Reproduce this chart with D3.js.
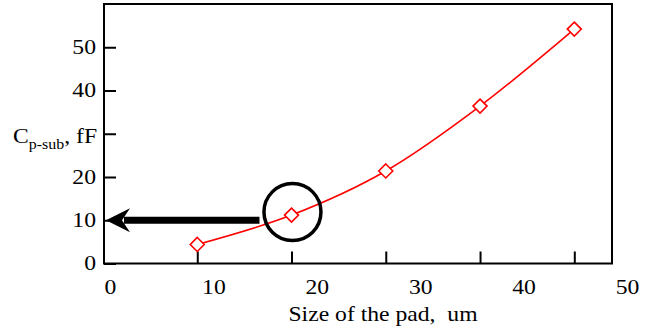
<!DOCTYPE html>
<html>
<head>
<meta charset="utf-8">
<script src="https://cdn.jsdelivr.net/npm/d3@7"></script>
<style>
  body { margin: 0; background: #fff; }
  svg, svg text { font-family: "Liberation Serif", "Times New Roman", serif; }
</style>
</head>
<body>
<svg id="chart" width="656" height="329"></svg>
<script>
const padSize = [10, 20, 30, 40, 50];
const cpSub = [4.4, 11.2, 21.4, 36.4, 54.2];
const xLabels = [0, 10, 20, 30, 40, 50];
const yLabels = [0, 10, 20, 40, 50];
const yTicks = [0, 10, 20, 30, 40, 50];

const FONT = "Liberation Serif";
const FS = 21.5;
const STRETCH = "scale(1.1,1)"; // the source figure is a little wider than tall
const svg = d3.select("#chart");

const x = d3.scaleLinear().domain([0, 54]).range([103, 612]);
const y = d3.scaleLinear().domain([0, 60]).range([263.5, 4]);
// tick labels in the figure are spaced a bit wider than the tick marks
const xLab = d3.scaleLinear().domain([0, 50]).range([110, 627]);

// frame
svg.append("rect")
    .attr("x", x.range()[0] + 1)
    .attr("y", y.range()[1])
    .attr("width", x.range()[1] - x.range()[0] - 1)
    .attr("height", y.range()[0] - y.range()[1])
    .attr("fill", "none")
    .attr("stroke", "#000")
    .attr("stroke-width", 2);

// bottom ticks (inward)
svg.append("g")
    .attr("transform", `translate(0,${y(0)})`)
    .call(d3.axisTop(x).tickValues(padSize).tickSize(12).tickFormat(""))
    .call(g => g.select(".domain").remove())
    .call(g => g.selectAll("line").attr("stroke-width", 2));

// bottom labels
svg.append("g")
    .attr("transform", `translate(0,${y(0)})`)
    .call(d3.axisBottom(xLab).tickValues(xLabels).tickSize(0).tickPadding(15))
    .call(g => g.select(".domain").remove())
    .call(g => g.selectAll("text")
        .attr("font-size", FS).style("font-family", FONT).attr("fill", "#000")
        .attr("transform", STRETCH));

// left ticks (inward)
svg.append("g")
    .attr("transform", `translate(${x(0) + 1},0)`)
    .call(d3.axisRight(y).tickValues(yTicks).tickSize(12).tickFormat(""))
    .call(g => g.select(".domain").remove())
    .call(g => g.selectAll("line").attr("stroke-width", 2));

svg.append("g")
    .attr("transform", `translate(${x(0) - 7},0)`)
    .call(d3.axisLeft(y).tickValues(yLabels).tickSize(0).tickPadding(0))
    .call(g => g.select(".domain").remove())
    .call(g => g.selectAll("text")
        .attr("font-size", FS).style("font-family", FONT).attr("fill", "#000")
        .attr("dy", "0.3em").attr("transform", STRETCH));

// y title
const yt = svg.append("text")
    .attr("transform", `translate(13,${y(30) + 9}) ${STRETCH}`)
    .attr("font-size", FS)
    .style("font-family", FONT)
    .attr("fill", "#000");
yt.append("tspan").text("C");
yt.append("tspan").attr("font-size", 14.5).attr("dy", 6).text("p-sub");
yt.append("tspan").attr("dy", -6).text(", fF");

// x title
svg.append("text")
    .attr("transform", `translate(383,321) ${STRETCH}`)
    .attr("text-anchor", "middle")
    .attr("font-size", FS)
    .style("font-family", FONT)
    .attr("fill", "#000")
    .style("white-space", "pre")
    .text("Size of the pad,  um");

// data line
const pts = padSize.map((d, i) => [d, cpSub[i]]);
svg.append("path")
    .datum(pts)
    .attr("fill", "none")
    .attr("stroke", "#ff0000")
    .attr("stroke-width", 1.6)
    .attr("d", d3.line().x(d => x(d[0])).y(d => y(d[1])).curve(d3.curveMonotoneX));

svg.selectAll(".mk")
    .data(pts)
    .join("path")
    .attr("class", "mk")
    .attr("transform", d => `translate(${x(d[0])},${y(d[1])})`)
    .attr("d", "M0,-7L7,0L0,7L-7,0Z")
    .attr("fill", "#fff")
    .attr("stroke", "#ff0000")
    .attr("stroke-width", 1.6);

// annotation: arrow pointing at 10 fF on the y axis
const ay = y(10);
const ax0 = x(16.6), ax1 = x(0) + 3;
svg.append("rect")
    .attr("x", ax1 + 18)
    .attr("y", ay - 3.5)
    .attr("width", ax0 - ax1 - 18)
    .attr("height", 7)
    .attr("fill", "#000");
svg.append("path")
    .attr("d", `M${ax1},${ay} L${ax1 + 24},${ay - 12} L${ax1 + 16},${ay} L${ax1 + 24},${ay + 12} Z`)
    .attr("fill", "#000");

// annotation: circle around the 20 um point
svg.append("circle")
    .attr("cx", x(20.1))
    .attr("cy", y(11.9))
    .attr("r", 28.5)
    .attr("fill", "none")
    .attr("stroke", "#000")
    .attr("stroke-width", 3.5);
</script>
</body>
</html>
